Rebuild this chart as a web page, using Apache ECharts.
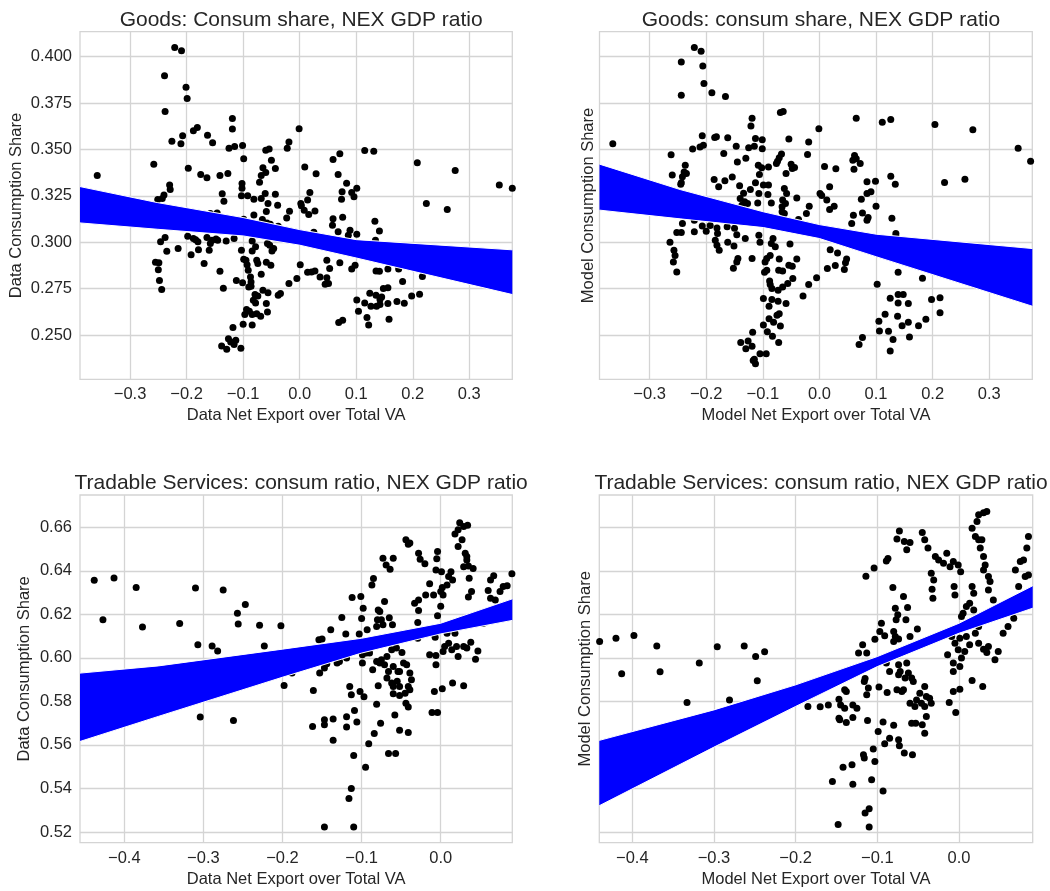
<!DOCTYPE html>
<html>
<head>
<meta charset="utf-8">
<script src="https://cdn.jsdelivr.net/npm/echarts@6/dist/echarts.min.js"></script>
<style>
  html, body { margin: 0; padding: 0; background: #fff; }
  #chart { width: 1050px; height: 891px; }
</style>
</head>
<body>
<div id="chart"></div>
<script>
// titles and axis names
const titles = [
  "Goods: Consum share, NEX GDP ratio",
  "Goods: consum share, NEX GDP ratio",
  "Tradable Services: consum ratio, NEX GDP ratio",
  "Tradable Services: consum ratio, NEX GDP ratio",
];
const xNames = ["Data Net Export over Total VA", "Model Net Export over Total VA"];
const yNames = ["Data Consumption Share", "Model Consumption Share"];

// tick labels
const goodsXTicks = [-0.3, -0.2, -0.1, 0, 0.1, 0.2, 0.3];
const goodsYTicks = [0.25, 0.275, 0.3, 0.325, 0.35, 0.375, 0.4];
const tradXTicks = [-0.4, -0.3, -0.2, -0.1, 0];
const tradYTicks = [0.52, 0.54, 0.56, 0.58, 0.6, 0.62, 0.64, 0.66];

// goods, data: [net export / VA, consumption share]
const goodsData = [
  [-0.221,0.4050],[-0.209,0.4032],[-0.239,0.3897],[-0.201,0.3836],[-0.199,0.3775],[-0.238,0.3705],[-0.119,0.3667],[-0.119,0.3610],
  [-0.181,0.3619],[-0.188,0.3601],[-0.163,0.3577],[-0.154,0.3536],[-0.207,0.3574],[-0.210,0.3531],[-0.226,0.3545],[-0.001,0.3612],
  [-0.019,0.3541],[-0.022,0.3507],[-0.101,0.3522],[-0.125,0.3507],[-0.115,0.3516],[-0.060,0.3496],[-0.054,0.3502],[-0.099,0.3450],
  [-0.050,0.3442],[0.115,0.3495],[0.131,0.3491],[0.071,0.3477],[0.059,0.3446],[0.208,0.3428],[0.275,0.3387],[-0.258,0.3421],
  [-0.197,0.3399],[-0.065,0.3401],[-0.043,0.3397],[-0.060,0.3376],[0.009,0.3405],[0.029,0.3369],[0.068,0.3365],[-0.358,0.3360],
  [-0.175,0.3365],[-0.164,0.3347],[-0.141,0.3360],[-0.127,0.3371],[-0.068,0.3360],[-0.071,0.3324],[-0.102,0.3317],[-0.102,0.3291],
  [0.083,0.3318],[0.101,0.3291],[0.092,0.3268],[0.075,0.3272],[0.096,0.3245],[0.074,0.3232],[0.353,0.3308],[0.376,0.3291],
  [-0.230,0.3308],[-0.229,0.3284],[-0.137,0.3261],[-0.134,0.3221],[-0.103,0.3250],[-0.092,0.3250],[-0.081,0.3232],[-0.061,0.3263],
  [-0.068,0.3236],[-0.043,0.3259],[-0.056,0.3209],[-0.039,0.3200],[0.018,0.3268],[0.014,0.3227],[0.002,0.3209],[0.003,0.3196],
  [0.224,0.3209],[0.261,0.3176],[-0.240,0.3254],[-0.251,0.3230],[-0.243,0.3236],[-0.059,0.3165],[-0.018,0.3167],[-0.023,0.3131],
  [0.008,0.3173],[0.027,0.3169],[0.016,0.3149],[-0.158,0.3155],[-0.146,0.3158],[-0.143,0.3137],[-0.148,0.3119],[-0.081,0.3147],
  [-0.099,0.3124],[-0.096,0.3112],[-0.087,0.3104],[-0.066,0.3122],[-0.058,0.3104],[-0.052,0.3097],[0.059,0.3126],[0.076,0.3135],
  [0.058,0.3092],[0.133,0.3113],[0.141,0.3061],[-0.038,0.3086],[0.068,0.3056],[0.089,0.3065],[0.101,0.3043],[0.086,0.3038],
  [0.025,0.3054],[0.134,0.3011],[-0.198,0.3032],[-0.184,0.3014],[-0.180,0.3002],[-0.188,0.3020],[-0.164,0.3025],[-0.155,0.3011],
  [-0.148,0.3018],[-0.158,0.2993],[-0.160,0.2957],[-0.145,0.3011],[-0.130,0.3007],[-0.116,0.3020],[-0.084,0.3007],[-0.078,0.2975],
  [-0.084,0.2953],[-0.103,0.2957],[-0.053,0.2984],[-0.046,0.2966],[-0.049,0.2953],[-0.057,0.2993],[-0.246,0.3002],[-0.238,0.3025],
  [-0.235,0.2951],[-0.215,0.2966],[-0.192,0.2933],[-0.179,0.2959],[-0.169,0.2885],[-0.255,0.2892],[-0.249,0.2890],[-0.250,0.2851],
  [-0.248,0.2793],[-0.244,0.2745],[-0.141,0.2844],[-0.135,0.2752],[-0.099,0.2908],[-0.095,0.2903],[-0.093,0.2878],[-0.091,0.2849],
  [-0.087,0.2813],[-0.086,0.2786],[-0.090,0.2759],[-0.086,0.2763],[-0.112,0.2793],[-0.101,0.2782],[-0.076,0.2903],[-0.074,0.2885],
  [-0.068,0.2827],[-0.059,0.2892],[-0.051,0.2876],[-0.065,0.2741],[-0.056,0.2727],[-0.079,0.2718],[-0.074,0.2710],[-0.082,0.2687],
  [-0.078,0.2673],[-0.059,0.2669],[-0.057,0.2624],[-0.034,0.2723],[-0.038,0.2714],[-0.019,0.2777],[-0.005,0.2804],[0.001,0.2879],
  [0.014,0.2838],[0.027,0.2845],[0.021,0.2840],[0.036,0.2813],[0.048,0.2809],[0.045,0.2773],[0.051,0.2777],[0.053,0.2858],
  [0.048,0.2903],[0.071,0.2890],[0.092,0.2856],[0.098,0.2876],[0.135,0.2845],[0.141,0.2843],[0.156,0.2856],[0.175,0.2856],
  [0.182,0.2788],[0.217,0.2815],[0.124,0.2725],[0.135,0.2714],[0.142,0.2691],[0.148,0.2750],[0.156,0.2754],[0.145,0.2705],
  [0.101,0.2689],[0.115,0.2673],[0.126,0.2655],[0.136,0.2655],[0.142,0.2664],[0.156,0.2669],[0.104,0.2628],[0.119,0.2594],
  [0.122,0.2554],[0.158,0.2585],[0.172,0.2680],[0.185,0.2671],[0.198,0.2710],[0.212,0.2719],[0.069,0.2567],[0.076,0.2579],
  [-0.094,0.2637],[-0.089,0.2628],[-0.084,0.2610],[-0.076,0.2615],[-0.069,0.2601],[-0.097,0.2610],[-0.100,0.2558],[-0.084,0.2554],
  [-0.118,0.2540],[-0.126,0.2480],[-0.122,0.2462],[-0.116,0.2448],[-0.113,0.2471],[-0.138,0.2441],[-0.129,0.2423],[-0.104,0.2428],
];

// goods, model
const goodsModel = [
  [-0.221,0.4050],[-0.209,0.4029],[-0.244,0.3971],[-0.206,0.3950],[-0.204,0.3856],[-0.244,0.3793],[-0.190,0.3806],[-0.166,0.3786],
  [-0.069,0.3700],[-0.064,0.3705],[-0.119,0.3669],[-0.121,0.3626],[0.065,0.3669],[0.111,0.3647],[0.126,0.3662],[0.204,0.3635],
  [0.271,0.3606],[-0.001,0.3612],[-0.365,0.3531],[-0.207,0.3574],[-0.185,0.3565],[-0.182,0.3568],[-0.162,0.3563],[-0.113,0.3559],
  [-0.101,0.3552],[-0.054,0.3556],[-0.019,0.3540],[-0.205,0.3523],[-0.211,0.3514],[-0.224,0.3502],[-0.147,0.3518],[-0.125,0.3509],
  [-0.115,0.3518],[-0.101,0.3504],[-0.169,0.3478],[-0.145,0.3433],[-0.130,0.3453],[-0.262,0.3471],[-0.067,0.3475],[-0.071,0.3455],
  [-0.074,0.3437],[-0.076,0.3424],[-0.021,0.3473],[0.062,0.3468],[0.065,0.3450],[0.059,0.3442],[0.072,0.3424],[0.061,0.3394],
  [0.351,0.3507],[0.373,0.3437],[-0.237,0.3415],[-0.239,0.3379],[-0.235,0.3371],[-0.260,0.3363],[-0.242,0.3353],[-0.244,0.3320],
  [-0.245,0.3313],[-0.108,0.3415],[-0.102,0.3401],[-0.090,0.3406],[-0.106,0.3365],[-0.050,0.3421],[-0.059,0.3371],[-0.048,0.3397],
  [-0.044,0.3403],[0.009,0.3408],[0.029,0.3396],[0.126,0.3356],[0.134,0.3313],[-0.186,0.3338],[-0.178,0.3299],[-0.167,0.3331],
  [-0.154,0.3351],[-0.141,0.3304],[-0.134,0.3264],[-0.122,0.3284],[-0.113,0.3320],[-0.099,0.3308],[-0.090,0.3308],[-0.062,0.3290],
  [-0.058,0.3263],[-0.040,0.3239],[0.084,0.3326],[0.099,0.3329],[0.221,0.3322],[0.257,0.3340],[0.018,0.3299],[0.001,0.3263],
  [0.004,0.3252],[0.013,0.3227],[0.026,0.3194],[0.018,0.3176],[0.091,0.3272],[0.084,0.3263],[0.074,0.3232],[0.100,0.3194],
  [-0.107,0.3263],[-0.091,0.3257],[-0.085,0.3212],[-0.109,0.3212],[-0.140,0.3236],[-0.132,0.3218],[-0.127,0.3209],[-0.137,0.3200],
  [-0.065,0.3227],[-0.060,0.3209],[-0.066,0.3191],[-0.066,0.3164],[-0.062,0.3155],[-0.018,0.3194],[-0.023,0.3155],[0.076,0.3158],
  [0.086,0.3133],[0.084,0.3119],[0.060,0.3146],[0.057,0.3101],[0.128,0.3129],[-0.037,0.3122],[-0.221,0.3119],[-0.242,0.3101],
  [-0.244,0.3052],[-0.252,0.3052],[-0.221,0.3056],[-0.207,0.3088],[-0.200,0.3059],[-0.193,0.3090],[-0.181,0.3077],[-0.180,0.3047],
  [-0.163,0.3083],[-0.150,0.3076],[-0.146,0.3040],[-0.131,0.3020],[-0.184,0.3011],[-0.181,0.2984],[-0.177,0.2957],[-0.162,0.3000],
  [-0.151,0.2980],[-0.107,0.3038],[-0.105,0.3000],[-0.082,0.3020],[-0.085,0.2993],[-0.078,0.2975],[-0.052,0.2991],[0.135,0.3047],
  [0.135,0.3032],[-0.264,0.3000],[-0.257,0.2957],[-0.255,0.2928],[-0.258,0.2894],[-0.252,0.2840],[-0.119,0.2912],[-0.144,0.2912],
  [-0.146,0.2894],[-0.152,0.2860],[-0.093,0.2912],[-0.096,0.2894],[-0.087,0.2928],[-0.071,0.2910],[-0.097,0.2838],[-0.093,0.2849],
  [-0.072,0.2849],[-0.065,0.2845],[-0.054,0.2876],[-0.048,0.2871],[-0.040,0.2910],[0.019,0.2959],[0.032,0.2942],[0.048,0.2910],
  [0.046,0.2890],[0.044,0.2853],[0.028,0.2874],[0.014,0.2858],[0.139,0.2838],[0.182,0.2806],[-0.005,0.2809],[-0.019,0.2772],
  [-0.088,0.2791],[-0.087,0.2772],[-0.084,0.2750],[-0.073,0.2741],[-0.065,0.2759],[-0.056,0.2777],[-0.047,0.2804],[-0.029,0.2710],
  [0.102,0.2773],[-0.099,0.2696],[-0.084,0.2691],[-0.089,0.2655],[-0.073,0.2682],[-0.059,0.2669],[-0.071,0.2615],[-0.075,0.2606],
  [-0.089,0.2588],[-0.081,0.2568],[-0.099,0.2554],[-0.069,0.2549],[0.125,0.2698],[0.139,0.2673],[0.148,0.2718],[0.139,0.2718],
  [0.157,0.2669],[0.213,0.2701],[0.198,0.2691],[0.116,0.2612],[0.105,0.2574],[0.138,0.2601],[0.157,0.2568],[0.146,0.2550],
  [0.175,0.2550],[0.188,0.2585],[0.213,0.2620],[0.106,0.2522],[0.122,0.2520],[0.130,0.2475],[0.159,0.2489],[0.125,0.2414],
  [0.076,0.2487],[0.070,0.2448],[-0.118,0.2514],[-0.092,0.2518],[-0.083,0.2493],[-0.072,0.2460],[-0.139,0.2460],[-0.126,0.2468],
  [-0.130,0.2426],[-0.119,0.2439],[-0.105,0.2399],[-0.094,0.2399],[-0.115,0.2369],[-0.113,0.2345],[-0.117,0.2363],
];

// tradable services, data
const tradData = [
  [-0.457,0.6309],[-0.438,0.6357],[-0.413,0.6367],[-0.385,0.6323],[-0.427,0.6175],[-0.377,0.6142],[-0.330,0.6158],[-0.310,0.6321],
  [-0.275,0.6312],[-0.307,0.6060],[-0.289,0.6055],[-0.282,0.6031],[-0.257,0.6205],[-0.247,0.6245],[-0.256,0.6156],[-0.229,0.6150],
  [-0.202,0.6147],[-0.223,0.6055],[-0.304,0.5728],[-0.262,0.5712],[-0.198,0.5873],[-0.188,0.5930],[-0.161,0.5850],[-0.162,0.5685],
  [-0.147,0.5693],[-0.147,0.5716],[-0.136,0.5719],[-0.136,0.5622],[-0.153,0.5930],[-0.147,0.5953],[-0.144,0.5973],[-0.139,0.6129],
  [-0.150,0.6087],[-0.154,0.6083],[-0.131,0.5976],[-0.128,0.5983],[-0.119,0.5999],[-0.120,0.6109],[-0.125,0.6185],[-0.112,0.6277],
  [-0.101,0.6282],[-0.098,0.6228],[-0.100,0.6181],[-0.085,0.6364],[-0.087,0.6335],[-0.079,0.6220],[-0.077,0.6213],[-0.080,0.6175],
  [-0.075,0.6175],[-0.073,0.6152],[-0.081,0.6144],[-0.071,0.6259],[-0.093,0.6129],[-0.103,0.6109],[-0.065,0.6184],[-0.061,0.6152],
  [-0.073,0.6458],[-0.069,0.6427],[-0.060,0.6458],[-0.064,0.6407],[-0.044,0.6542],[-0.041,0.6522],[-0.039,0.6527],[-0.028,0.6481],
  [-0.026,0.6453],[-0.020,0.6432],[-0.004,0.6488],[-0.005,0.6455],[-0.006,0.6404],[0.001,0.6396],[-0.014,0.6340],[-0.019,0.6289],
  [-0.009,0.6289],[-0.033,0.6251],[-0.028,0.6266],[-0.028,0.6217],[-0.029,0.6162],[-0.029,0.6090],[-0.004,0.6193],[0.000,0.6237],
  [0.000,0.6305],[0.003,0.6289],[0.002,0.6323],[0.008,0.6335],[0.010,0.6374],[0.015,0.6358],[0.013,0.6396],[0.018,0.6569],
  [0.024,0.6621],[0.029,0.6603],[0.034,0.6609],[0.022,0.6588],[0.027,0.6542],[0.022,0.6511],[0.031,0.6481],[0.033,0.6465],
  [0.033,0.6450],[0.029,0.6419],[0.035,0.6422],[0.041,0.6410],[0.036,0.6366],[0.039,0.6305],[0.035,0.6279],[0.067,0.6377],
  [0.063,0.6358],[0.060,0.6309],[0.063,0.6274],[0.069,0.6266],[0.084,0.6331],[0.090,0.6386],[0.079,0.6328],[0.075,0.6305],
  [-0.007,0.6095],[0.008,0.6113],[0.018,0.6113],[0.010,0.6067],[0.005,0.6052],[0.003,0.6029],[0.014,0.6037],[0.020,0.6052],
  [0.029,0.6052],[0.038,0.6072],[0.033,0.6045],[0.022,0.6006],[0.047,0.6031],[0.044,0.5994],[-0.014,0.6014],[-0.006,0.6011],
  [-0.006,0.5968],[0.054,0.6159],[-0.008,0.5846],[0.002,0.5858],[0.015,0.5884],[0.029,0.5872],[-0.011,0.5749],[-0.004,0.5749],
  [-0.099,0.6014],[-0.094,0.6022],[-0.090,0.6022],[-0.099,0.5976],[-0.086,0.5945],[-0.081,0.5983],[-0.077,0.5976],[-0.075,0.5991],
  [-0.071,0.5968],[-0.068,0.6006],[-0.062,0.6037],[-0.056,0.6045],[-0.049,0.6025],[-0.066,0.5937],[-0.060,0.5960],[-0.054,0.5937],
  [-0.052,0.5937],[-0.047,0.5976],[-0.043,0.5968],[-0.039,0.5930],[-0.037,0.5899],[-0.041,0.5869],[-0.039,0.5853],[-0.045,0.5838],
  [-0.068,0.5907],[-0.062,0.5884],[-0.060,0.5869],[-0.055,0.5892],[-0.052,0.5869],[-0.060,0.5835],[-0.052,0.5827],[-0.079,0.5872],
  [-0.115,0.5869],[-0.113,0.5830],[-0.102,0.5846],[-0.097,0.5821],[-0.081,0.5787],[-0.044,0.5792],[-0.041,0.5774],[-0.109,0.5758],
  [-0.119,0.5729],[-0.106,0.5705],[-0.119,0.5682],[-0.058,0.5737],[-0.052,0.5667],[-0.041,0.5657],[-0.076,0.5700],[-0.084,0.5653],
  [-0.091,0.5605],[-0.110,0.5552],[-0.095,0.5498],[-0.066,0.5561],[-0.057,0.5561],[-0.113,0.5400],[-0.116,0.5354],[-0.147,0.5223],
  [-0.110,0.5223],
];

// tradable services, model
const tradModel = [
  [-0.440,0.6075],[-0.420,0.6090],[-0.398,0.6103],[-0.370,0.6055],[-0.413,0.5927],[-0.366,0.5936],[-0.318,0.5976],[-0.296,0.6051],
  [-0.263,0.6054],[-0.249,0.6006],[-0.238,0.6028],[-0.247,0.5895],[-0.333,0.5795],[-0.281,0.5807],[-0.185,0.5777],[-0.170,0.5775],
  [-0.160,0.5783],[-0.147,0.5810],[-0.145,0.5784],[-0.140,0.5769],[-0.140,0.5853],[-0.138,0.5846],[-0.130,0.5784],[-0.125,0.5769],
  [-0.147,0.5723],[-0.138,0.5703],[-0.130,0.5726],[-0.146,0.5716],[-0.112,0.5712],[-0.099,0.5662],[-0.093,0.5705],[-0.080,0.5690],
  [-0.091,0.5605],[-0.085,0.5631],[-0.074,0.5624],[-0.073,0.5596],[-0.067,0.5563],[-0.057,0.5555],[-0.117,0.5555],[-0.116,0.5540],
  [-0.103,0.5524],[-0.105,0.5581],[-0.142,0.5497],[-0.131,0.5509],[-0.155,0.5432],[-0.130,0.5420],[-0.107,0.5440],[-0.093,0.5388],
  [-0.115,0.5287],[-0.110,0.5307],[-0.148,0.5235],[-0.110,0.5223],[-0.118,0.6060],[-0.123,0.6022],[-0.113,0.6022],[-0.115,0.5905],
  [-0.116,0.5891],[-0.111,0.5861],[-0.113,0.5830],[-0.098,0.5866],[-0.088,0.5841],[-0.076,0.5853],[-0.068,0.5853],[-0.070,0.5846],
  [-0.103,0.6086],[-0.097,0.6121],[-0.091,0.6101],[-0.095,0.6159],[-0.080,0.6121],[-0.078,0.6098],[-0.074,0.6087],[-0.080,0.6075],
  [-0.060,0.6098],[-0.051,0.6132],[-0.078,0.6228],[-0.075,0.6198],[-0.077,0.6175],[-0.065,0.6175],[-0.063,0.6231],[-0.068,0.6282],
  [-0.081,0.6323],[-0.114,0.6375],[-0.104,0.6413],[-0.089,0.6445],[-0.087,0.6456],[-0.073,0.6583],[-0.076,0.6546],[-0.067,0.6534],
  [-0.060,0.6530],[-0.064,0.6496],[-0.045,0.6576],[-0.042,0.6542],[-0.038,0.6504],[-0.029,0.6465],[-0.025,0.6450],[-0.019,0.6435],
  [-0.015,0.6481],[-0.011,0.6419],[-0.007,0.6442],[-0.001,0.6427],[0.002,0.6396],[-0.034,0.6389],[-0.031,0.6358],[-0.033,0.6315],
  [-0.032,0.6274],[-0.006,0.6328],[-0.005,0.6289],[0.016,0.6328],[0.018,0.6297],[0.013,0.6251],[0.009,0.6236],[0.005,0.6205],
  [0.018,0.6220],[0.003,0.6190],[0.016,0.6595],[0.022,0.6626],[0.024,0.6657],[0.030,0.6667],[0.034,0.6672],[0.020,0.6557],
  [0.024,0.6542],[0.028,0.6542],[0.026,0.6504],[0.030,0.6465],[0.032,0.6427],[0.030,0.6404],[0.036,0.6374],[0.038,0.6351],
  [0.036,0.6312],[0.042,0.6266],[0.069,0.6404],[0.073,0.6328],[0.075,0.6442],[0.079,0.6450],[0.083,0.6504],[0.085,0.6557],
  [0.085,0.6381],[0.081,0.6374],[0.054,0.6113],[0.060,0.6144],[0.067,0.6182],[0.024,0.6144],[0.020,0.6113],[-0.009,0.6098],
  [-0.005,0.6067],[0.001,0.6090],[0.009,0.6098],[0.013,0.6060],[0.007,0.6029],[-0.001,0.6037],[0.003,0.5999],[-0.007,0.5976],
  [-0.007,0.5937],[0.001,0.5960],[0.024,0.6067],[0.030,0.6040],[0.036,0.6052],[0.034,0.6025],[0.044,0.5991],[0.048,0.6029],
  [-0.014,0.6014],[0.016,0.5896],[0.029,0.5869],[0.001,0.5856],[-0.007,0.5846],[-0.012,0.5795],[-0.004,0.5749],[-0.089,0.5976],
  [-0.085,0.5937],[-0.074,0.5968],[-0.064,0.5976],[-0.062,0.5930],[-0.072,0.5937],[-0.058,0.5907],[-0.074,0.5922],[-0.066,0.5907],
  [-0.056,0.5891],[-0.048,0.5838],[-0.042,0.5869],[-0.040,0.5823],[-0.052,0.5807],[-0.046,0.5792],[-0.036,0.5815],[-0.034,0.5792],
  [-0.060,0.5792],[-0.054,0.5777],[-0.042,0.5777],[-0.040,0.5731],[-0.058,0.5700],[-0.053,0.5700],[-0.045,0.5693],[-0.042,0.5654],
];

// confidence bands of the fitted line: x, lower, upper
const goodsDataBandX = [-0.3885, -0.252, -0.1, 0, 0.1, 0.376];
const goodsDataBandLow = [0.3104, 0.3070, 0.3034, 0.2984, 0.2915, 0.2718];
const goodsDataBandHigh = [0.3300, 0.3214, 0.3133, 0.3068, 0.3014, 0.2959];

const goodsModelBandX = [-0.3885, -0.246, -0.099, 0, 0.101, 0.376];
const goodsModelBandLow = [0.3173, 0.3126, 0.3079, 0.3020, 0.2921, 0.2655];
const goodsModelBandHigh = [0.3421, 0.3284, 0.3164, 0.3095, 0.3043, 0.2966];

const tradDataBandX = [-0.456, -0.357, -0.2, -0.1, 0, 0.0905];
const tradDataBandLow = [0.5616, 0.5731, 0.5911, 0.6022, 0.6110, 0.6172];
const tradDataBandHigh = [0.5930, 0.5963, 0.6040, 0.6090, 0.6159, 0.6271];

const tradModelBandX = [-0.4404, -0.3, -0.2, -0.1, 0, 0.0902];
const tradModelBandLow = [0.5321, 0.5590, 0.5777, 0.5960, 0.6113, 0.6228];
const tradModelBandHigh = [0.5621, 0.5761, 0.5876, 0.6006, 0.6159, 0.6331];

const FONT = "'Liberation Sans', Arial, sans-serif";
const TEXT = "#262626";
const GRIDLINE = "#d4d4d4";

function fmt(v, digits) {
  const s = Math.abs(v).toFixed(digits);
  return v < -1e-9 ? "\u2212" + s : s;
}

const grids = [
  { left: 80, top: 31.7, width: 432.3, height: 347.6 },
  { left: 599.5, top: 31.7, width: 432.8, height: 347.6 },
  { left: 80, top: 495, width: 432.3, height: 347.7 },
  { left: 599.3, top: 495, width: 433.4, height: 347.7 },
];

const panels = [
  { pts: goodsData, bx: goodsDataBandX, lo: goodsDataBandLow, hi: goodsDataBandHigh,
    xr: [-0.3885, 0.376], yr: [0.2261, 0.4135], xt: goodsXTicks, yt: goodsYTicks, yd: 3,
    xName: xNames[0], yName: yNames[0], yLabels: true, yGap: 55 },
  { pts: goodsModel, bx: goodsModelBandX, lo: goodsModelBandLow, hi: goodsModelBandHigh,
    xr: [-0.3885, 0.376], yr: [0.2261, 0.4135], xt: goodsXTicks, yt: goodsYTicks, yd: 3,
    xName: xNames[1], yName: yNames[1], yLabels: false, yGap: 3 },
  { pts: tradData, bx: tradDataBandX, lo: tradDataBandLow, hi: tradDataBandHigh,
    xr: [-0.456, 0.0905], yr: [0.5151, 0.6748], xt: tradXTicks, yt: tradYTicks, yd: 2,
    xName: xNames[0], yName: yNames[0], yLabels: true, yGap: 47 },
  { pts: tradModel, bx: tradModelBandX, lo: tradModelBandLow, hi: tradModelBandHigh,
    xr: [-0.4404, 0.0902], yr: [0.5151, 0.6748], xt: tradXTicks, yt: tradYTicks, yd: 2,
    xName: xNames[1], yName: yNames[1], yLabels: false, yGap: 5 },
];

const chart = echarts.init(document.getElementById("chart"));

const option = {
  backgroundColor: "#ffffff",
  animation: false,
  title: titles.map((t, i) => ({
    text: t,
    left: grids[i].left + grids[i].width / 2,
    top: grids[i].top - 27,
    textAlign: "center",
    textStyle: { fontFamily: FONT, fontSize: 21, fontWeight: "normal", color: TEXT },
  })),
  grid: grids.map((g) => ({ ...g, show: true, borderColor: GRIDLINE, borderWidth: 1.3, backgroundColor: "#fff" })),
  xAxis: panels.map((p, i) => ({
    type: "value",
    gridIndex: i,
    min: p.xr[0],
    max: p.xr[1],
    name: p.xName,
    nameLocation: "middle",
    nameGap: 28,
    nameTextStyle: { fontFamily: FONT, fontSize: 16.5, color: TEXT },
    axisLine: { show: false },
    axisTick: { show: false, customValues: p.xt },
    axisLabel: {
      customValues: p.xt,
      margin: 7,
      fontFamily: FONT,
      fontSize: 16.5,
      color: TEXT,
      formatter: (v) => fmt(v, 1),
    },
    splitLine: { show: true, lineStyle: { color: GRIDLINE, width: 1.3 } },
  })),
  yAxis: panels.map((p, i) => ({
    type: "value",
    gridIndex: i,
    min: p.yr[0],
    max: p.yr[1],
    name: p.yName,
    nameLocation: "middle",
    nameGap: p.yGap,
    nameTextStyle: { fontFamily: FONT, fontSize: 16.5, color: TEXT },
    axisLine: { show: false },
    axisTick: { show: false, customValues: p.yt },
    axisLabel: {
      show: p.yLabels,
      customValues: p.yt,
      margin: 8,
      fontFamily: FONT,
      fontSize: 16.5,
      color: TEXT,
      formatter: (v) => fmt(v, p.yd),
    },
    splitLine: { show: true, lineStyle: { color: GRIDLINE, width: 1.3 } },
  })),
  series: [],
};

panels.forEach((p, i) => {
  option.series.push({
    type: "scatter",
    xAxisIndex: i,
    yAxisIndex: i,
    data: p.pts,
    symbolSize: 7,
    itemStyle: { color: "#000000", opacity: 1 },
    z: 2,
  });
  option.series.push({
    type: "custom",
    xAxisIndex: i,
    yAxisIndex: i,
    data: p.bx.map((x, k) => [x, p.hi[k]]),
    z: 3,
    renderItem: (params, api) => {
      if (params.dataIndex !== 0) return null;
      const upper = p.bx.map((x, k) => api.coord([x, p.hi[k]]));
      const lower = p.bx.map((x, k) => api.coord([x, p.lo[k]]));
      return {
        type: "group",
        children: [
          { type: "polygon", shape: { points: upper.concat(lower.slice().reverse()) }, style: { fill: "#0000ff" } },
          { type: "polyline", shape: { points: upper }, style: { stroke: "#ffffff", lineWidth: 1, fill: null } },
          { type: "polyline", shape: { points: lower }, style: { stroke: "#ffffff", lineWidth: 1, fill: null } },
        ],
      };
    },
  });
});

chart.setOption(option);
window.addEventListener("resize", () => chart.resize());
</script>
</body>
</html>
